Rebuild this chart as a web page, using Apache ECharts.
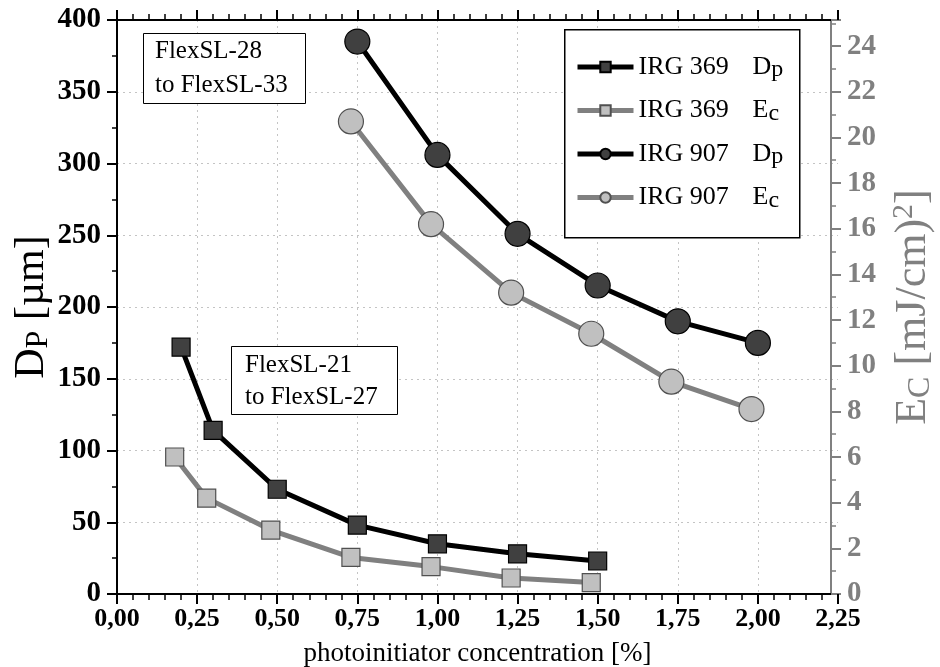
<!DOCTYPE html>
<html>
<head>
<meta charset="utf-8">
<script src="https://cdn.jsdelivr.net/npm/echarts@6/dist/echarts.min.js"></script>
<style>
  html, body { margin: 0; padding: 0; background: #fff; }
  #chart { width: 940px; height: 667px; }
</style>
</head>
<body>
<div id="chart"></div>
<script>
// photoinitiator concentration [%] and measured values
const irg369DpX = [0.2, 0.3, 0.5, 0.75, 1.0, 1.25, 1.5];
const irg369Dp = [172, 114, 73, 48, 35, 28, 23];
const irg369EcX = [0.18, 0.28, 0.48, 0.73, 0.98, 1.23, 1.48];
const irg369Ec = [6.0, 4.2, 2.8, 1.6, 1.2, 0.7, 0.5];
const irg907DpX = [0.75, 1.0, 1.25, 1.5, 1.75, 2.0];
const irg907Dp = [385, 306, 251, 215, 190, 175];
const irg907EcX = [0.73, 0.98, 1.23, 1.48, 1.73, 1.98];
const irg907Ec = [20.7, 16.2, 13.2, 11.4, 9.3, 8.1];

const seriesNames = ['IRG 369 Dp', 'IRG 369 Ec', 'IRG 907 Dp', 'IRG 907 Ec'];

const FONT = 'Liberation Serif';
const GRAY = '#808080';

const pairs = (xs, ys) => xs.map((x, i) => [x, ys[i]]);

const chart = echarts.init(document.getElementById('chart'));

const tickLabel = (size, color) => ({
  fontFamily: FONT, fontWeight: 'bold', fontSize: size, color: color
});

const dotted = { color: '#c4c4c4', width: 1, type: [2, 4] };

const option = {
  animation: false,
  grid: { left: 117, right: 102, top: 20, bottom: 73, outerBoundsMode: 'none', containLabel: false },
  legend: {
    orient: 'vertical',
    left: 575,
    top: 54,
    padding: 0,
    itemWidth: 56,
    itemHeight: 13,
    itemGap: 15.5,
    data: seriesNames,
    lineStyle: { width: 5 },
    formatter: function (name) {
      const parts = name.split(' ');
      return '{t|' + parts[0] + ' ' + parts[1] + '}{m|' + parts[2][0] + '}{s|' + parts[2][1] + '}';
    },
    textStyle: {
      color: '#000',
      fontFamily: FONT,
      rich: {
        t: { fontFamily: FONT, fontSize: 26, color: '#000', width: 114, lineHeight: 30 },
        m: { fontFamily: FONT, fontSize: 26, color: '#000', lineHeight: 30 },
        s: { fontFamily: FONT, fontSize: 24, color: '#000', lineHeight: 16, verticalAlign: 'bottom' }
      }
    }
  },
  graphic: [
    {
      type: 'rect', left: 564, top: 29, z: 1,
      shape: { width: 235, height: 208 },
      style: { fill: '#fff', stroke: '#000', lineWidth: 1.5 }
    },
    {
      type: 'rect', left: 143, top: 33, z: 1,
      shape: { width: 162, height: 70 },
      style: { fill: '#fff', stroke: '#000', lineWidth: 1 }
    },
    {
      type: 'text', left: 155, top: 34, z: 2,
      style: { text: 'FlexSL-28\nto FlexSL-33', font: '25px "Liberation Serif"', lineHeight: 34, fill: '#000' }
    },
    {
      type: 'rect', left: 231, top: 346, z: 1,
      shape: { width: 166, height: 68 },
      style: { fill: '#fff', stroke: '#000', lineWidth: 1 }
    },
    {
      type: 'text', left: 245, top: 349, z: 2,
      style: { text: 'FlexSL-21\nto FlexSL-27', font: '25px "Liberation Serif"', lineHeight: 32, fill: '#000' }
    }
  ],
  xAxis: [
    {
      type: 'value', position: 'bottom',
      min: 0, max: 2.25, interval: 0.25,
      axisLine: { onZero: false, lineStyle: { color: '#000', width: 2 } },
      axisTick: { length: 10, lineStyle: { color: '#000', width: 2 } },
      minorTick: { show: true, splitNumber: 5, length: 6, lineStyle: { color: '#000', width: 1.5 } },
      axisLabel: Object.assign(tickLabel(26, '#000'), {
        margin: 12,
        formatter: v => v.toFixed(2).replace('.', ',')
      }),
      splitLine: { show: true, showMinLine: false, showMaxLine: false, lineStyle: dotted },
      name: 'photoinitiator concentration [%]',
      nameLocation: 'middle',
      nameGap: 46,
      nameTextStyle: { fontFamily: FONT, fontSize: 27, color: '#000' }
    },
    {
      type: 'value', position: 'top',
      min: 0, max: 2.25, interval: 0.25,
      axisLine: { onZero: false, lineStyle: { color: '#000', width: 2 } },
      axisTick: { length: 10, lineStyle: { color: '#000', width: 2 } },
      minorTick: { show: true, splitNumber: 5, length: 6, lineStyle: { color: '#000', width: 1.5 } },
      axisLabel: { show: false },
      splitLine: { show: false }
    }
  ],
  yAxis: [
    {
      type: 'value', position: 'left',
      min: 0, max: 400, interval: 50,
      axisLine: { show: true, onZero: false, lineStyle: { color: '#000', width: 2 } },
      axisTick: { show: true, length: 10, lineStyle: { color: '#000', width: 2 } },
      minorTick: { show: true, splitNumber: 2, length: 5, lineStyle: { color: '#000', width: 1.5 } },
      axisLabel: Object.assign(tickLabel(29, '#000'), { margin: 16 }),
      splitLine: { show: true, showMinLine: false, showMaxLine: false, lineStyle: dotted },
      name: '{m|D}{s|P}{m| [µm]}',
      nameLocation: 'middle',
      nameGap: 62,
      nameMoveOverlap: false,
      nameTextStyle: {
        rich: {
          m: { fontFamily: FONT, fontSize: 42, color: '#000', lineHeight: 46 },
          s: { fontFamily: FONT, fontSize: 32, color: '#000', lineHeight: 28, verticalAlign: 'bottom' }
        }
      }
    },
    {
      type: 'value', position: 'right', offset: -7,
      min: 0, max: 400 * 22 / 350, interval: 2,
      axisLine: { show: true, onZero: false, lineStyle: { color: GRAY, width: 2 } },
      axisTick: { show: true, length: 10, lineStyle: { color: GRAY, width: 2 } },
      minorTick: { show: true, splitNumber: 2, length: 5, lineStyle: { color: GRAY, width: 1.5 } },
      axisLabel: Object.assign(tickLabel(29, GRAY), {
        margin: 16,
        showMaxLabel: false,
        formatter: v => (Math.abs(v - Math.round(v)) < 1e-6 ? String(Math.round(v)) : '')
      }),
      splitLine: { show: false },
      name: '{m|E}{s|C}{m| [mJ/cm)}{p|2}{m|]}',
      nameLocation: 'middle',
      nameGap: 58,
      nameTextStyle: {
        rich: {
          m: { fontFamily: FONT, fontSize: 44, color: GRAY, lineHeight: 48 },
          s: { fontFamily: FONT, fontSize: 32, color: GRAY, lineHeight: 28, verticalAlign: 'bottom' },
          p: { fontFamily: FONT, fontSize: 30, color: GRAY, lineHeight: 26, verticalAlign: 'top' }
        }
      }
    }
  ],
  series: [
    {
      name: seriesNames[0], type: 'line', yAxisIndex: 0, z: 4,
      data: pairs(irg369DpX, irg369Dp),
      symbol: 'rect', symbolSize: 18,
      lineStyle: { color: '#000', width: 5 },
      itemStyle: { color: '#404040', borderColor: '#000', borderWidth: 1.2 }
    },
    {
      name: seriesNames[1], type: 'line', yAxisIndex: 1, z: 3,
      data: pairs(irg369EcX, irg369Ec),
      symbol: 'rect', symbolSize: 18,
      lineStyle: { color: GRAY, width: 5 },
      itemStyle: { color: '#c0c0c0', borderColor: '#505050', borderWidth: 1.2 }
    },
    {
      name: seriesNames[2], type: 'line', yAxisIndex: 0, z: 4,
      data: pairs(irg907DpX, irg907Dp),
      symbol: 'circle', symbolSize: 25,
      lineStyle: { color: '#000', width: 5 },
      itemStyle: { color: '#404040', borderColor: '#000', borderWidth: 1.2 }
    },
    {
      name: seriesNames[3], type: 'line', yAxisIndex: 1, z: 3,
      data: pairs(irg907EcX, irg907Ec),
      symbol: 'circle', symbolSize: 25,
      lineStyle: { color: GRAY, width: 5 },
      itemStyle: { color: '#c0c0c0', borderColor: '#505050', borderWidth: 1.2 }
    }
  ]
};

chart.setOption(option);
</script>
</body>
</html>
